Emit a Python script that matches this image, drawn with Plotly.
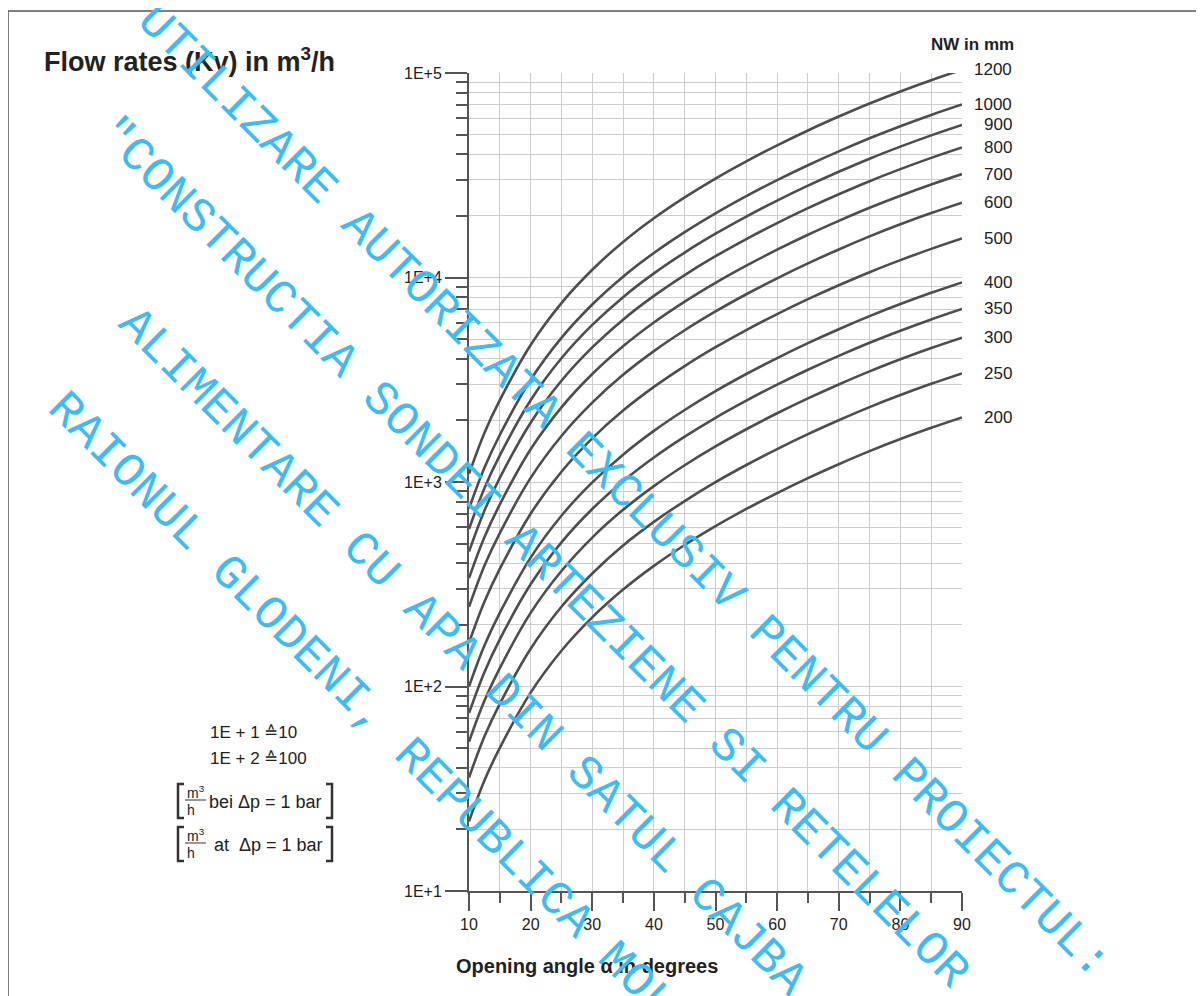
import math
import plotly.graph_objects as go

# ---------------- data ----------------
angles = [10, 12.5, 15, 20, 25, 30, 35, 40, 45, 50, 55, 60, 65, 70, 75, 80, 85, 90]

nominal_sizes = ["1200", "1000", "900", "800", "700", "600", "500", "400", "350", "300", "250", "200"]

kv_1200 = [1096, 1738, 2512, 4677, 7499, 10914, 14928, 19498, 24660, 30479, 36983, 44259, 52360, 61235, 70958, 81283, 92257, 103753]
kv_1000 = [741, 1175, 1698, 3162, 5070, 7379, 10093, 13183, 16672, 20606, 25003, 29923, 35400, 41400, 47973, 54954, 62373, 70146]
kv_900 = [589, 933, 1349, 2512, 4027, 5861, 8017, 10471, 13243, 16368, 19861, 23768, 28119, 32885, 38107, 43652, 49545, 55719]
kv_800 = [457, 724, 1047, 1950, 3126, 4550, 6223, 8128, 10280, 12706, 15417, 18450, 21827, 25527, 29580, 33884, 38459, 43251]
kv_700 = [339, 537, 776, 1445, 2317, 3373, 4613, 6026, 7621, 9419, 11429, 13677, 16181, 18923, 21928, 25119, 28510, 32063]
kv_600 = [245, 389, 562, 1047, 1679, 2443, 3342, 4365, 5521, 6823, 8279, 9908, 11722, 13709, 15885, 18197, 20654, 23227]
kv_500 = [164, 260, 376, 700, 1122, 1633, 2234, 2917, 3690, 4560, 5534, 6622, 7834, 9162, 10617, 12162, 13804, 15524]
kv_400 = [100, 158.5, 229, 427, 684, 995, 1361, 1778, 2249, 2780, 3373, 4036, 4775, 5585, 6471, 7413, 8414, 9462]
kv_350 = [74.1, 117.5, 170, 316, 507, 738, 1009, 1318, 1667, 2061, 2500, 2992, 3540, 4140, 4797, 5495, 6237, 7015]
kv_300 = [53.7, 85.1, 123, 229, 367, 535, 731, 955, 1208, 1493, 1811, 2168, 2564, 2999, 3475, 3981, 4519, 5082]
kv_250 = [35.9, 56.9, 82.2, 153, 245.5, 357, 489, 638, 807, 998, 1211, 1449, 1714, 2004, 2323, 2661, 3020, 3396]
kv_200 = [21.9, 34.7, 50.1, 93.3, 149.6, 217.8, 297.8, 389, 492, 608, 738, 883, 1045, 1222, 1416, 1622, 1841, 2070]

series = [kv_1200, kv_1000, kv_900, kv_800, kv_700, kv_600, kv_500, kv_400, kv_350, kv_300, kv_250, kv_200]

x_tickvals = [10, 20, 30, 40, 50, 60, 70, 80, 90]
x_ticktext = ["10", "20", "30", "40", "50", "60", "70", "80", "90"]
x_minorvals = [15, 25, 35, 45, 55, 65, 75, 85]
y_tickvals = [10, 100, 1000, 10000, 100000]
y_ticktext = ["1E+1", "1E+2", "1E+3", "1E+4", "1E+5"]
y_minorvals = [k * 10 ** d for d in range(1, 5) for k in range(2, 10)]

title_text = "Flow rates (Kv) in m<sup>3</sup>/h"
x_title = "Opening angle α in degrees"
nw_title = "NW in mm"
note_lines = ["1E + 1 \u225910", "1E + 2 \u2259100"]
unit_texts = ["bei \u0394p = 1 bar", "at \u00a0\u0394p = 1 bar"]

watermark_lines = [
    "UTILIZARE AUTORIZATA EXCLUSIV PENTRU PROIECTUL:",
    "\"CONSTRUCTIA SONDEI ARTEZIENE SI RETELELOR",
    "ALIMENTARE CU APA DIN SATUL CAJBA",
    "RAIONUL GLODENI, REPUBLICA MOLDOVA",
]

# ---------------- layout helpers ----------------
# the page body has an 8px margin, so the figure is drawn 8px in from the corner
PAGE_OFF = 8
W, H = 1204 - PAGE_OFF, 996 - PAGE_OFF
# plot area in screenshot pixels
X0, X1, Y0, Y1 = 469, 962, 73, 891
YLOG0, YLOG1 = 1, 5


def px(xp):
    return (xp - X0) / (X1 - X0)


def py(yp):
    return (Y1 - yp) / (Y1 - Y0)


def ylog_paper(v):
    return (math.log10(v) - YLOG0) / (YLOG1 - YLOG0)


FONT = "Liberation Sans, Arial, sans-serif"
TXT = "#222222"
GRID = "#cdcdcd"
AXIS = "#555555"
CURVE = "#4d4d4d"

fig = go.Figure()
for name, vals in zip(nominal_sizes, series):
    fig.add_trace(go.Scatter(
        x=angles, y=vals, mode="lines", name=name,
        line=dict(color=CURVE, width=2.6, shape="spline", smoothing=1.0),
        showlegend=False, hoverinfo="x+y+name",
    ))

annotations = []
# curve labels at the right, placed at each curve's end value
for name, vals in zip(nominal_sizes, series):
    annotations.append(dict(
        xref="paper", yref="paper", x=px(1014), y=ylog_paper(vals[-1]),
        text=name, showarrow=False, xanchor="right", yanchor="middle",
        font=dict(family=FONT, size=17, color=TXT),
    ))

annotations += [
    dict(xref="paper", yref="paper", x=px(42), y=py(60), text="<b>" + title_text + "</b>",
         showarrow=False, xanchor="left", yanchor="middle",
         font=dict(family=FONT, size=27, color=TXT)),
    dict(xref="paper", yref="paper", x=px(1016), y=py(45), text="<b>" + nw_title + "</b>",
         showarrow=False, xanchor="right", yanchor="middle",
         font=dict(family=FONT, size=17, color=TXT)),
    dict(xref="paper", yref="paper", x=px(454), y=py(966), text="<b>" + x_title + "</b>",
         showarrow=False, xanchor="left", yanchor="middle",
         font=dict(family=FONT, size=20, color=TXT)),
    dict(xref="paper", yref="paper", x=px(208), y=py(732), text=note_lines[0],
         showarrow=False, xanchor="left", yanchor="middle",
         font=dict(family=FONT, size=17, color=TXT)),
    dict(xref="paper", yref="paper", x=px(208), y=py(758), text=note_lines[1],
         showarrow=False, xanchor="left", yanchor="middle",
         font=dict(family=FONT, size=17, color=TXT)),
]

shapes = []


def unit_block(ycenter, rest_text, rest_x):
    top, bot = ycenter - 17, ycenter + 17
    shapes.append(dict(type="path", xref="paper", yref="paper",
                       path=f"M {px(184)} {py(top)} L {px(178)} {py(top)} L {px(178)} {py(bot)} L {px(184)} {py(bot)}",
                       line=dict(color="#333333", width=2.5)))
    shapes.append(dict(type="path", xref="paper", yref="paper",
                       path=f"M {px(326)} {py(top)} L {px(332)} {py(top)} L {px(332)} {py(bot)} L {px(326)} {py(bot)}",
                       line=dict(color="#333333", width=2.5)))
    shapes.append(dict(type="line", xref="paper", yref="paper",
                       x0=px(185), x1=px(206), y0=py(ycenter - 1), y1=py(ycenter - 1),
                       line=dict(color="#333333", width=1)))
    annotations.append(dict(xref="paper", yref="paper", x=px(196), y=py(ycenter - 9),
                            text="m<sup>3</sup>", showarrow=False, xanchor="center", yanchor="middle",
                            font=dict(family=FONT, size=14, color=TXT)))
    annotations.append(dict(xref="paper", yref="paper", x=px(191), y=py(ycenter + 9),
                            text="h", showarrow=False, xanchor="center", yanchor="middle",
                            font=dict(family=FONT, size=14, color=TXT)))
    annotations.append(dict(xref="paper", yref="paper", x=px(rest_x), y=py(ycenter + 1),
                            text=rest_text, showarrow=False, xanchor="left", yanchor="middle",
                            font=dict(family=FONT, size=18, color=TXT)))


unit_block(801, unit_texts[0], 207)
unit_block(844, unit_texts[1], 212)

# outer frame (left and top edges visible)
shapes.append(dict(type="rect", xref="paper", yref="paper",
                   x0=px(8), x1=px(1215), y0=py(1010), y1=py(11),
                   line=dict(color="#555555", width=1.5), layer="below"))

# watermark (diagonal text)
wm_centers = [(624, 492), (533, 553), (462, 652), (402, 747)]
for txt, (cx, cy) in zip(watermark_lines, wm_centers):
    annotations.append(dict(xref="paper", yref="paper", x=px(cx), y=py(cy), text=txt,
                            showarrow=False, xanchor="center", yanchor="middle", textangle=45,
                            font=dict(family="Liberation Mono, Courier New, monospace", size=48,
                                      color="#3dbcf0")))

fig.update_layout(
    width=W, height=H, autosize=False,
    margin=dict(l=X0 - PAGE_OFF, r=W - (X1 - PAGE_OFF), t=Y0 - PAGE_OFF, b=H - (Y1 - PAGE_OFF), pad=0),
    paper_bgcolor="white", plot_bgcolor="white",
    font=dict(family=FONT, color=TXT),
    annotations=annotations, shapes=shapes,
    xaxis=dict(
        range=[10, 90], tickmode="array", tickvals=x_tickvals, ticktext=x_ticktext,
        ticks="outside", ticklen=18, tickwidth=2, tickcolor=AXIS,
        tickfont=dict(family=FONT, size=16, color=TXT),
        showline=True, linecolor=AXIS, linewidth=2,
        showgrid=True, gridcolor=GRID, gridwidth=1, zeroline=False,
        minor=dict(tickmode="array", tickvals=x_minorvals, ticks="outside", ticklen=10,
                   tickwidth=2, tickcolor=AXIS, showgrid=True, gridcolor=GRID, gridwidth=1),
    ),
    yaxis=dict(
        type="log", range=[YLOG0, YLOG1], tickmode="array", tickvals=y_tickvals, ticktext=y_ticktext,
        ticks="outside", ticklen=22, tickwidth=2, tickcolor=AXIS,
        tickfont=dict(family=FONT, size=16, color=TXT),
        showline=True, linecolor=AXIS, linewidth=2,
        showgrid=True, gridcolor=GRID, gridwidth=1, zeroline=False,
        minor=dict(tickmode="array", tickvals=y_minorvals, ticks="outside", ticklen=11,
                   tickwidth=2, tickcolor=AXIS, showgrid=True, gridcolor=GRID, gridwidth=1),
    ),
)

fig.write_html("out.html")
